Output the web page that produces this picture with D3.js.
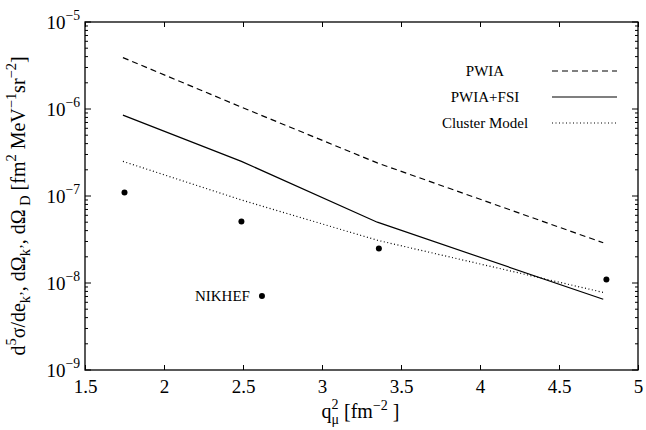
<!DOCTYPE html>
<html>
<head>
<meta charset="utf-8">
<script src="https://cdn.jsdelivr.net/npm/d3@7"></script>
<style>
	body { margin: 0; background: #fff; }
</style>
</head>
<body>
<div id="graph"></div>
<script>
// q_mu^2 values (fm^-2) where the curves were computed
const qCurve = [1.74, 2.49, 3.35, 4.78];
const pwia = [3.9e-6, 1.05e-6, 2.4e-7, 2.9e-8];
const pwiaFsi = [8.5e-7, 2.5e-7, 5.0e-8, 6.5e-9];
const cluster = [2.5e-7, 9.0e-8, 3.1e-8, 7.8e-9];

// NIKHEF data points
const qData = [1.75, 2.49, 2.62, 3.36, 4.80];
const xsData = [1.1e-7, 5.1e-8, 7.1e-9, 2.5e-8, 1.1e-8];

const xTicks = [1.5, 2, 2.5, 3, 3.5, 4, 4.5, 5];
const yExps = [-9, -8, -7, -6, -5];

const series = [
	{ name: 'PWIA', values: pwia, dash: '6,4' },
	{ name: 'PWIA+FSI', values: pwiaFsi, dash: null },
	{ name: 'Cluster Model', values: cluster, dash: '1,2.5' },
];

const FONT = "'Liberation Serif', 'Times New Roman', serif";

// writes text with sup/sub pieces as tspans
function richText(sel, parts, size) {
	let shift = 0;
	parts.forEach(([str, kind]) => {
		let target = 0;
		if (kind === 'sup') target = -size * 0.45;
		if (kind === 'sub') target = size * 0.25;
		sel.append('tspan')
			.attr('dy', target - shift)
			.style('font-family', FONT)
			.style('font-size', kind ? `${size * 0.72}px` : `${size}px`)
			.text(str);
		shift = target;
	});
}

function drawGraph() {
	const margin = { top: 22, right: 8, bottom: 60, left: 85 };
	const width = 646 - margin.left - margin.right;
	const height = 430 - margin.top - margin.bottom;

	const xScale = d3.scaleLinear().domain([1.5, 5]).range([0, width]);
	const yScale = d3.scaleLog().domain([1e-9, 1e-5]).range([height, 0]);

	const svg = d3
		.select('#graph')
		.append('svg')
		.attr('width', 646)
		.attr('height', 430)
		.style('font-family', FONT)
		.append('g')
		.attr('transform', `translate(${margin.left}, ${margin.top})`);

	// frame
	svg.append('rect').attr('width', width).attr('height', height)
		.attr('fill', 'none').attr('stroke', '#000').attr('stroke-width', 1.3);

	// x ticks (bottom and top, inward)
	const xAxis = d3.axisBottom(xScale).tickValues(xTicks).tickSize(-5).tickPadding(9).tickFormat(d3.format('~g'));
	const gx = svg.append('g').attr('transform', `translate(0, ${height})`).call(xAxis);
	gx.attr('font-family', null).select('.domain').remove();
	gx.selectAll('text').style('font-family', FONT).style('font-size', '19px').attr('dy', '0.75em');

	const gxTop = svg.append('g').call(d3.axisTop(xScale).tickValues(xTicks).tickSize(-5).tickFormat(''));
	gxTop.select('.domain').remove();

	// y ticks: decades plus minor ticks, left and right
	const minor = [];
	for (let e = -9; e < -5; e++) for (let m = 2; m <= 9; m++) minor.push(m * Math.pow(10, e));

	[0, width].forEach((xPos) => {
		const dir = xPos === 0 ? 1 : -1;
		svg.append('g').selectAll('line.maj').data(yExps.map((e) => Math.pow(10, e))).enter()
			.append('line')
			.attr('x1', xPos).attr('x2', xPos + dir * 6)
			.attr('y1', (d) => yScale(d)).attr('y2', (d) => yScale(d))
			.attr('stroke', '#000');
		svg.append('g').selectAll('line.min').data(minor).enter()
			.append('line')
			.attr('x1', xPos).attr('x2', xPos + dir * 3)
			.attr('y1', (d) => yScale(d)).attr('y2', (d) => yScale(d))
			.attr('stroke', '#000');
	});

	yExps.forEach((e) => {
		const t = svg.append('text')
			.attr('x', -5)
			.attr('y', yScale(Math.pow(10, e)) + 7)
			.attr('text-anchor', 'end');
		richText(t, [['10', null], [`\u2212${-e}`, 'sup']], 19);
	});

	// curves
	const line = d3.line().x((d) => xScale(d.x)).y((d) => yScale(d.y));

	series.forEach((s) => {
		svg.append('path')
			.datum(qCurve.map((q, i) => ({ x: q, y: s.values[i] })))
			.attr('d', line)
			.attr('fill', 'none')
			.attr('stroke', '#000')
			.attr('stroke-width', 1.2)
			.attr('stroke-dasharray', s.dash);
	});

	// data points
	svg.selectAll('.pt')
		.data(qData.map((q, i) => ({ x: q, y: xsData[i] })))
		.enter()
		.append('circle')
		.attr('class', 'pt')
		.attr('cx', (d) => xScale(d.x))
		.attr('cy', (d) => yScale(d.y))
		.attr('r', 3)
		.attr('fill', '#000');

	svg.append('text')
		.attr('x', xScale(qData[2]) - 12)
		.attr('y', yScale(xsData[2]) + 5)
		.attr('text-anchor', 'end')
		.style('font-size', '15px')
		.text('NIKHEF');

	// legend
	series.forEach((s, i) => {
		const y = 49 + i * 26;
		svg.append('text').attr('x', 400).attr('y', y + 5).attr('text-anchor', 'middle')
			.style('font-size', '15px').text(s.name);
		svg.append('line').attr('x1', 467).attr('x2', 532).attr('y1', y).attr('y2', y)
			.attr('stroke', '#000').attr('stroke-width', 1.2).attr('stroke-dasharray', s.dash);
	});

	// axis titles
	const xt = svg.append('text').attr('x', width / 2 - 1).attr('y', height + 48).attr('text-anchor', 'middle');
	xt.append('tspan').style('font-size', '20px').text('q');
	xt.append('tspan').attr('dy', -9).style('font-size', '14px').text('2');
	xt.append('tspan').attr('dx', -7).attr('dy', 15).style('font-size', '14px').text('\u03bc');
	xt.append('tspan').attr('dy', -6).style('font-size', '20px').text(' [fm');
	xt.append('tspan').attr('dy', -8).style('font-size', '14px').text('\u22122');
	xt.append('tspan').attr('dy', 8).style('font-size', '20px').text(' ]');

	const yt = svg.append('text')
		.attr('transform', `translate(${-60}, ${height / 2 + 10}) rotate(-90)`)
		.attr('text-anchor', 'middle');
	richText(yt, [
		['d', null], ['5', 'sup'], ['\u03c3/de', null], ['k\u2019', 'sub'],
		[', d\u03a9', null], ['k\u2019', 'sub'], [', d\u03a9', null], [' D', 'sub'],
		[' [fm', null], ['2', 'sup'], [' MeV', null], ['\u22121', 'sup'],
		['sr', null], ['\u22122', 'sup'], [']', null],
	], 20);
}

drawGraph();
</script>
</body>
</html>
